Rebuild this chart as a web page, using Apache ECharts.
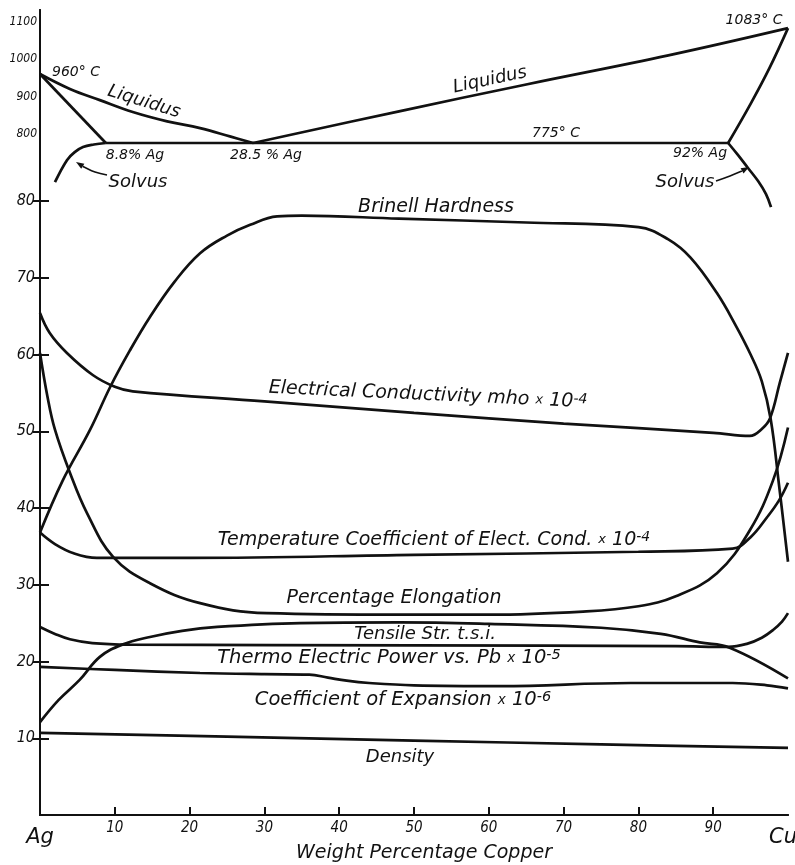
<!DOCTYPE html>
<html><head><meta charset="utf-8">
<script src="https://cdn.jsdelivr.net/npm/echarts@6/dist/echarts.min.js"></script>
<style>html,body{margin:0;padding:0;background:#fff;overflow:hidden}#c{width:795px;height:865px}</style>
</head><body><div id="c"></div>
<script>
// ---- axis ticks / labels ----
const xTickValues = [0, 10, 20, 30, 40, 50, 60, 70, 80, 90, 100];
const xTickLabels = ['Ag', '10', '20', '30', '40', '50', '60', '70', '80', '90', 'Cu'];
const xInnerTicks = [10, 20, 30, 40, 50, 60, 70, 80, 90];
const propTicks = [10, 20, 30, 40, 50, 60, 70, 80];
const tempTicks = [800, 900, 1000, 1100];

// ---- phase diagram (x = wt% Cu, y = °C) ----
const liquidusLeft = [[0, 960], [4, 920], [8, 890], [12.4, 858], [17, 833], [21.4, 815], [25.5, 792], [28.5, 775]];
const liquidusRight = [[28.5, 775], [48, 860], [65, 932], [84, 1010], [100, 1083]];
const solidusLeft = [[0, 960], [8.8, 775]];
const eutectic = [[8.8, 775], [92, 775]];
const solidusRight = [[92, 775], [95, 880], [97.5, 975], [100, 1083]];
const solvusLeft = [[2, 670], [3.6, 729], [4.6, 750], [5.75, 764], [7.2, 771], [8.8, 775]];
const solvusRight = [[92, 775], [93.3, 743], [94.65, 708], [96, 673], [97.06, 638], [97.73, 603]];

// ---- property curves (x = wt% Cu, y = property scale) ----
const brinell = [[0, 36.8], [3, 43.5], [6.7, 50.2], [9.4, 55.8], [12, 60.5], [14.7, 64.9], [18, 69.5], [21.4, 73.2], [25, 75.5], [28.1, 76.9], [31.7, 78.0], [35, 78.1], [48, 77.7], [65, 77.2], [80, 76.6], [84, 75], [87, 72.6], [90.5, 68], [93, 63.8], [95, 60], [96.5, 56.5], [97.7, 51.5], [98.8, 43], [100, 33]];
const conductivity = [[0, 65.4], [1.3, 62.8], [3.6, 60.2], [7.1, 57.3], [10, 55.8], [12.4, 55.2], [30, 53.9], [50, 52.4], [70, 51.0], [90, 49.8], [94.9, 49.4], [96.5, 50.3], [97.6, 51.7], [98.9, 56.3], [100, 60.2]];
const tempCoeff = [[0, 36.8], [2, 35.3], [4.5, 34.1], [7.6, 33.5], [20, 33.5], [50, 33.9], [80, 34.3], [92.6, 34.7], [95, 36.2], [97.2, 38.8], [98.8, 41], [100, 43.3]];
const elongation = [[0, 60.2], [1, 54.5], [2, 50.2], [4, 44.6], [6.3, 39.3], [9.8, 33.6], [14.7, 30.2], [21.4, 27.6], [30.3, 26.3], [48, 26.1], [60, 26.1], [72.6, 26.5], [80, 27.2], [85, 28.5], [90.5, 31.5], [94.9, 37.1], [98, 43.6], [100, 50.5]];
const tensile = [[0, 12.1], [2.5, 15], [5.3, 17.6], [8, 20.6], [11, 22.2], [14.7, 23.2], [19, 24], [23.7, 24.5], [34.8, 25], [48, 25.1], [60, 24.9], [75, 24.4], [83, 23.6], [88.2, 22.5], [92.2, 21.8], [100, 17.8]];
const thermo = [[0, 24.5], [2, 23.6], [4, 22.9], [7, 22.4], [12, 22.2], [50, 22.1], [85, 22], [92, 21.9], [94.5, 22.3], [96.5, 23.1], [98, 24.1], [99.2, 25.2], [100, 26.3]];
const expansion = [[0, 19.3], [10, 18.9], [21.4, 18.5], [30, 18.35], [36, 18.3], [38.5, 17.9], [41, 17.5], [44, 17.2], [50, 16.9], [61.5, 16.8], [79, 17.2], [92.6, 17.2], [97.2, 16.9], [100, 16.5]];
const density = [[0, 10.7], [25, 10.2], [50, 9.7], [75, 9.2], [100, 8.75]];

const INK = '#111';
const FONT = 'DejaVu Sans';
const NUMFONT = '"DejaVu Sans Condensed", "DejaVu Sans"';
const chart = echarts.init(document.getElementById('c'));

function curve(data, yAxisIndex, smooth) {
  return {
    type: 'line', data: data, xAxisIndex: 0, yAxisIndex: yAxisIndex,
    symbol: 'none', smooth: smooth ? 0.4 : false,
    lineStyle: { color: INK, width: 2.7 }, silent: true, animation: false
  };
}

function label(text, x, y, size, rot) {
  return {
    type: 'text', x: x, y: y, rotation: rot || 0, silent: true,
    style: {
      text: text, fill: INK, fontFamily: FONT, fontStyle: 'italic', fontSize: size,
      align: 'center', verticalAlign: 'middle',
      rich: {
        n: { fontFamily: FONT, fontStyle: 'italic', fontSize: size, fill: INK },
        x: { fontFamily: FONT, fontStyle: 'italic', fontSize: size - 6, fill: INK },
        s: { fontFamily: FONT, fontStyle: 'italic', fontSize: size - 5, fill: INK, verticalAlign: 'top' }
      }
    }
  };
}

function arrow(pts) {
  const a = pts[pts.length - 2], b = pts[pts.length - 1];
  const dx = b[0] - a[0], dy = b[1] - a[1], L = Math.hypot(dx, dy);
  const ux = dx / L, uy = dy / L, nx = -uy, ny = ux;
  const bx = b[0] - 8 * ux, by = b[1] - 8 * uy;
  return [
    { type: 'polyline', silent: true, shape: { points: pts.slice(0, -1).concat([[bx, by]]), smooth: 0.4 }, style: { stroke: INK, lineWidth: 1.6, fill: null } },
    { type: 'polygon', silent: true, shape: { points: [b, [bx + 3 * nx, by + 3 * ny], [bx - 3 * nx, by - 3 * ny]] }, style: { fill: INK } }
  ];
}

const axisLineStyle = { color: INK, width: 2 };

chart.setOption({
  animation: false,
  backgroundColor: '#fff',
  grid: { left: 40, right: 7, top: 10, bottom: 50, containLabel: false, outerBoundsMode: 'none' },
  xAxis: [
    {
      type: 'value', min: 0, max: 100, position: 'bottom',
      axisLine: { lineStyle: axisLineStyle },
      axisTick: { inside: true, length: 8, customValues: xInnerTicks, lineStyle: { color: INK, width: 2 } },
      axisLabel: {
        customValues: xTickValues, margin: 6, color: INK, fontFamily: NUMFONT, fontStyle: 'italic', fontSize: 15,
        formatter: function (v) {
          const t = xTickLabels[Math.round(v / 10)];
          if (v === 0) return '{ag|' + t + '}';
          if (v === 100) return '{cu|' + t + '}';
          return t;
        },
        rich: {
          ag: { fontFamily: FONT, fontStyle: 'italic', fontSize: 21, color: INK, padding: [6, 0, 0, 0] },
          cu: { fontFamily: FONT, fontStyle: 'italic', fontSize: 21, color: INK, padding: [6, 10, 0, 0] }
        }
      },
      splitLine: { show: false },
      name: 'Weight Percentage Copper', nameLocation: 'middle', nameGap: 29, nameMoveOverlap: false,
      nameTextStyle: { color: INK, fontFamily: FONT, fontStyle: 'italic', fontSize: 19, padding: [0, 0, 0, 20] }
    },
    {
      type: 'value', min: 0, max: 100, position: 'top',
      axisLine: { lineStyle: axisLineStyle }, axisTick: { show: false }, axisLabel: { show: false }, splitLine: { show: false }
    }
  ],
  yAxis: [
    {
      type: 'value', min: 0, max: 104.89, position: 'left',
      axisLine: { show: true, lineStyle: axisLineStyle },
      axisTick: { show: true, inside: true, length: 9, customValues: propTicks, lineStyle: { color: INK, width: 2 } },
      axisLabel: { customValues: propTicks, margin: 5, color: INK, fontFamily: NUMFONT, fontStyle: 'italic', fontSize: 16 },
      splitLine: { show: false }
    },
    {
      type: 'value', min: 0, max: 104.89, position: 'right',
      axisLine: { show: true, lineStyle: axisLineStyle },
      axisTick: { show: true, inside: true, length: 7, customValues: propTicks, lineStyle: { color: INK, width: 2 } },
      axisLabel: { show: false }, splitLine: { show: false }
    },
    {
      type: 'value', min: -1026.6, max: 1131.6, position: 'left',
      axisLine: { show: false }, axisTick: { show: false },
      axisLabel: { customValues: tempTicks, margin: 3, color: INK, fontFamily: NUMFONT, fontStyle: 'italic', fontSize: 12, formatter: function (v) { return String(v); } },
      splitLine: { show: false }
    }
  ],
  series: [
    curve(liquidusLeft, 2, true),
    curve(liquidusRight, 2, true),
    curve(solidusLeft, 2, false),
    curve(eutectic, 2, false),
    curve(solidusRight, 2, true),
    curve(solvusLeft, 2, true),
    curve(solvusRight, 2, true),
    curve(brinell, 0, true),
    curve(conductivity, 0, true),
    curve(tempCoeff, 0, true),
    curve(elongation, 0, true),
    curve(tensile, 0, true),
    curve(thermo, 0, true),
    curve(expansion, 0, true),
    curve(density, 0, true)
  ],
  graphic: [
    label('960° C', 76, 72, 14),
    label('Liquidus', 144, 102, 18, -0.3),
    label('8.8% Ag', 135, 155, 14),
    label('28.5 % Ag', 266, 155, 14),
    label('Solvus', 138, 182, 18),
    label('Liquidus', 490, 80, 18, 0.21),
    label('1083° C', 754, 20, 14),
    label('775° C', 556, 133, 14),
    label('92% Ag', 700, 153, 14),
    label('Solvus', 685, 182, 18),
    label('Brinell Hardness', 436, 207, 19),
    label('{n|Electrical Conductivity mho }{x|x}{n| 10}{s|-4}', 428, 395, 19, -0.045),
    label('{n|Temperature Coefficient of Elect. Cond. }{x|x}{n| 10}{s|-4}', 434, 540, 19),
    label('Percentage Elongation', 394, 598, 19),
    label('Tensile Str. t.s.i.', 425, 634, 18),
    label('{n|Thermo Electric Power vs. Pb }{x|x}{n| 10}{s|-5}', 389, 658, 19.5),
    label('{n|Coefficient of Expansion }{x|x}{n| 10}{s|-6}', 403, 700, 19.5),
    label('Density', 400, 757, 18)
  ].concat(arrow([[107, 175], [95, 172], [84, 167], [76, 162]]))
   .concat(arrow([[716, 181], [730, 176], [742, 171], [749, 167]]))
});
</script>
</body></html>
